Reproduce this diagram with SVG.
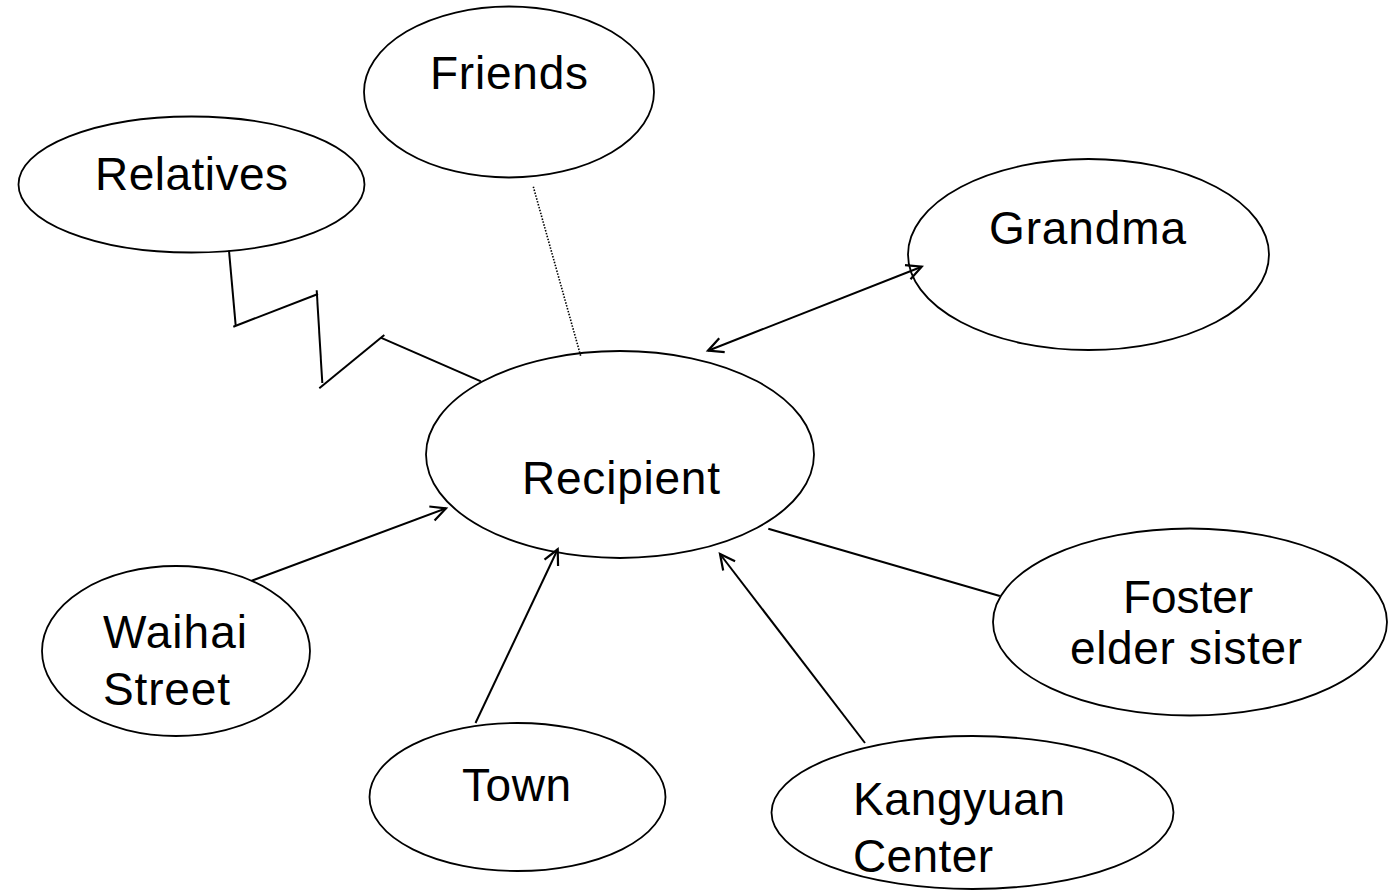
<svg xmlns="http://www.w3.org/2000/svg" width="1394" height="890" viewBox="0 0 1394 890">
<style>
.node ellipse{fill:#fff;stroke:#000;stroke-width:1.8}
.node text{font-family:"Liberation Sans",Arial,sans-serif;font-size:46px;fill:#000}
.conn line{stroke:#000;stroke-width:2;fill:none}
.conn .dot{stroke-width:1.6;stroke-dasharray:1.5 1.5}
</style>
<defs>
<marker id="arr" markerUnits="userSpaceOnUse" markerWidth="20" markerHeight="20" viewBox="-16 -10 18 20" refX="0" refY="0" orient="auto-start-reverse">
<path d="M-15,-7.5 L0,0 L-15,7.5" fill="none" stroke="#000" stroke-width="2.2"/>
</marker>
</defs>
<rect width="1394" height="890" fill="#fff"/>
<g id="friends" class="node"><ellipse cx="509" cy="92" rx="145" ry="85.5"/><text x="430" y="89" textLength="158">Friends</text></g>
<g id="relatives" class="node"><ellipse cx="191.5" cy="184.5" rx="173" ry="68"/><text x="95" y="190" textLength="193">Relatives</text></g>
<g id="grandma" class="node"><ellipse cx="1088.5" cy="254.5" rx="180.5" ry="95.5"/><text x="989" y="244" textLength="197">Grandma</text></g>
<g id="recipient" class="node"><ellipse cx="620" cy="454.5" rx="194" ry="103.5"/><text x="522" y="494" textLength="198">Recipient</text></g>
<g id="waihai" class="node"><ellipse cx="176" cy="651" rx="134" ry="85"/><text x="103" y="648" textLength="144">Waihai</text><text x="103" y="705" textLength="127">Street</text></g>
<g id="town" class="node"><ellipse cx="517.5" cy="797" rx="148" ry="74"/><text x="462" y="801" textLength="109">Town</text></g>
<g id="foster" class="node"><ellipse cx="1190" cy="622" rx="197" ry="93.5"/><text x="1123" y="613" textLength="130">Foster</text><text x="1070" y="664" textLength="232">elder sister</text></g>
<g id="kangyuan" class="node"><ellipse cx="972.5" cy="812.5" rx="201" ry="76.5"/><text x="853" y="815" textLength="212">Kangyuan</text><text x="853" y="872" textLength="140">Center</text></g>
<g id="connectors" class="conn">
<line x1="229" y1="250.7" x2="235.7" y2="325.7"/>
<line x1="233.3" y1="326.7" x2="318" y2="294"/>
<line x1="316.7" y1="290.3" x2="322.3" y2="383"/>
<line x1="319.3" y1="388.3" x2="384.3" y2="335"/>
<line x1="380.7" y1="337.7" x2="481" y2="381.3"/>
<line class="dot" x1="533.3" y1="186.7" x2="581" y2="357"/>
<line x1="708" y1="350.7" x2="921.7" y2="266.7" marker-start="url(#arr)" marker-end="url(#arr)"/>
<line x1="251.7" y1="580.7" x2="446" y2="508.3" marker-end="url(#arr)"/>
<line x1="475.5" y1="723" x2="557.7" y2="549.3" marker-end="url(#arr)"/>
<line x1="865" y1="743" x2="720" y2="554" marker-end="url(#arr)"/>
<line x1="768.3" y1="528.7" x2="999.8" y2="596"/>
</g>
</svg>
